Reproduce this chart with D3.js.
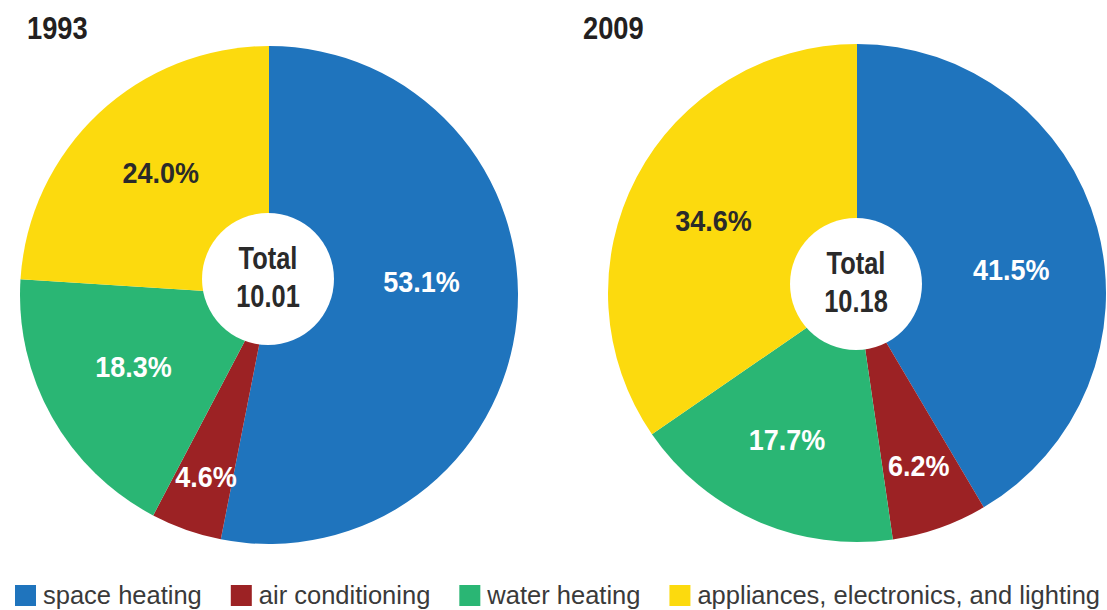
<!DOCTYPE html>
<html>
<head>
<meta charset="utf-8">
<script src="https://cdn.jsdelivr.net/npm/d3@7"></script>
<style>
  html, body { margin: 0; padding: 0; background: #fff; }
  svg { display: block; }
</style>
</head>
<body>
<svg id="chart" width="1107" height="610"></svg>
<script>
// ---- data ----
const categories = ["space heating", "air conditioning", "water heating", "appliances, electronics, and lighting"];
const years = ["1993", "2009"];
const totals = ["10.01", "10.18"];
const shares1993 = [53.1, 4.6, 18.3, 24.0];
const shares2009 = [41.5, 6.2, 17.7, 34.6];
const sliceColors = ["#1f74bd", "#9c2224", "#2ab674", "#fcda0e"];
const labelColors = ["#ffffff", "#ffffff", "#ffffff", "#2a2a2a"];

// ---- layout ----
const W = 1107, H = 610;
const R = 249;
const charts = [
  { year: years[0], total: totals[0], values: shares1993, cx: 269, cy: 295, hole: [-1, -16], titleX: 27,
    nudge: [-10.7, -0.3, 1.6, 1.9], lr: [153, 192, 153, 164] },
  { year: years[1], total: totals[1], values: shares2009, cx: 857, cy: 293, hole: [-1, -9], titleX: 583,
    nudge: [6.5, -0.3, 2.0, -0.7], lr: [156, 183, 162, 161] }
];
const boldFont = "'Liberation Sans', Arial, sans-serif";

const svg = d3.select("#chart");
const pie = d3.pie().sort(null).value(d => d);
const arc = d3.arc().innerRadius(0).outerRadius(R);

charts.forEach(c => {
  const g = svg.append("g").attr("transform", `translate(${c.cx},${c.cy})`);
  const arcs = pie(c.values);
  g.selectAll("path.slice").data(arcs).enter().append("path")
    .attr("class", "slice")
    .attr("d", arc)
    .attr("fill", (d, i) => sliceColors[i]);

  // white centre disc
  g.append("circle")
    .attr("cx", c.hole[0]).attr("cy", c.hole[1]).attr("r", 66)
    .attr("fill", "#fff");

  // centre text
  const tg = g.append("g").attr("transform", `translate(${c.hole[0]},${c.hole[1]})`);
  ["Total", c.total].forEach((t, i) => {
    tg.append("text")
      .attr("transform", `translate(0,${i === 0 ? -10 : 28}) scale(0.82,1)`)
      .attr("text-anchor", "middle")
      .attr("font-family", boldFont)
      .attr("font-weight", "bold")
      .attr("font-size", 31)
      .attr("fill", "#2a2a2a")
      .text(t);
  });

  // percent labels
  arcs.forEach((d, i) => {
    const a = (d.startAngle + d.endAngle) / 2 + c.nudge[i] * Math.PI / 180;
    const x = Math.sin(a) * c.lr[i];
    const y = -Math.cos(a) * c.lr[i];
    g.append("text")
      .attr("transform", `translate(${x},${y}) scale(0.9,1)`)
      .attr("text-anchor", "middle")
      .attr("dy", "0.36em")
      .attr("font-family", boldFont)
      .attr("font-weight", "bold")
      .attr("font-size", 30)
      .attr("fill", labelColors[i])
      .text(d3.format(".1f")(d.data) + "%");
  });

  // title
  svg.append("text")
    .attr("transform", `translate(${c.titleX},39) scale(0.88,1)`)
    .attr("font-family", boldFont)
    .attr("font-weight", "bold")
    .attr("font-size", 31)
    .attr("fill", "#231f20")
    .text(c.year);
});

// ---- legend ----
const legend = svg.append("g").attr("class", "legend");
let lx = 15;
const sq = 21, legY = 585;
categories.forEach((name, i) => {
  legend.append("rect")
    .attr("x", lx).attr("y", legY).attr("width", sq).attr("height", sq)
    .attr("fill", sliceColors[i]);
  const t = legend.append("text")
    .attr("x", lx + sq + 7).attr("y", legY + 19)
    .attr("font-family", "'Liberation Sans', Arial, sans-serif")
    .attr("font-size", 25.5)
    .attr("fill", "#3a3a3a")
    .text(name);
  lx = lx + sq + 7 + t.node().getComputedTextLength() + 29;
});
</script>
</body>
</html>
